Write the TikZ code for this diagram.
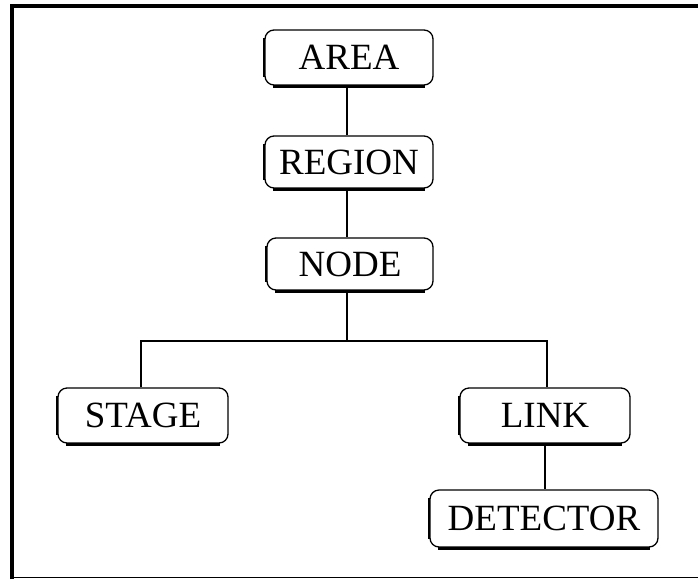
\documentclass[tikz,border=0pt]{standalone}
\usepackage{fontspec}
\setmainfont{Liberation Serif}
\begin{document}
\begin{tikzpicture}[x=1pt,y=-1pt,
  box/.style={draw, line width=1.3pt, rounded corners=9pt, inner sep=0pt, font=\fontsize{37}{40}\selectfont},
  link line/.style={line width=1.4pt}]
\useasboundingbox (0,0) rectangle (698,579);
% frame
\draw[line width=4pt] (12,579) -- (12,6) -- (698,6);
\draw[line width=1.5pt] (10,577.5) -- (698,577.5);
% nodes
\node[box, minimum width=168pt, minimum height=55pt] (area) at (349,57.5) {AREA};
\node[box, minimum width=168pt, minimum height=52pt] (region) at (349,162) {REGION};
\node[box, minimum width=166pt, minimum height=52pt] (node) at (350,264) {NODE};
\node[box, minimum width=170pt, minimum height=55pt] (stage) at (143,415.5) {STAGE};
\node[box, minimum width=170pt, minimum height=55pt] (link) at (545,415.5) {LINK};
\node[box, minimum width=228pt, minimum height=57pt] (detector) at (544,518.5) {DETECTOR};
% thick bottom / left strokes
\foreach \n in {area,region,node,stage,link,detector}{
  \draw[line width=2.8pt] ([xshift=9pt,yshift=-0.7pt]\n.south west) -- ([xshift=-9pt,yshift=-0.7pt]\n.south east);
  \draw[line width=2.2pt] ([xshift=-0.5pt,yshift=9pt]\n.south west) -- ([xshift=-0.5pt,yshift=-9pt]\n.north west);
}
% connectors
\draw[link line] (area.south -| 347,0) -- (region.north -| 347,0);
\draw[link line] (region.south -| 347,0) -- (node.north -| 347,0);
\draw[link line] (node.south -| 347,0) -- (347,341) coordinate (j);
\draw[link line] ([xshift=-2pt]stage.north) |- (j) -| ([xshift=2pt]link.north);
\draw[link line] ([xshift=0pt]link.south) -- (detector.north -| link.south);
\end{tikzpicture}
\end{document}
